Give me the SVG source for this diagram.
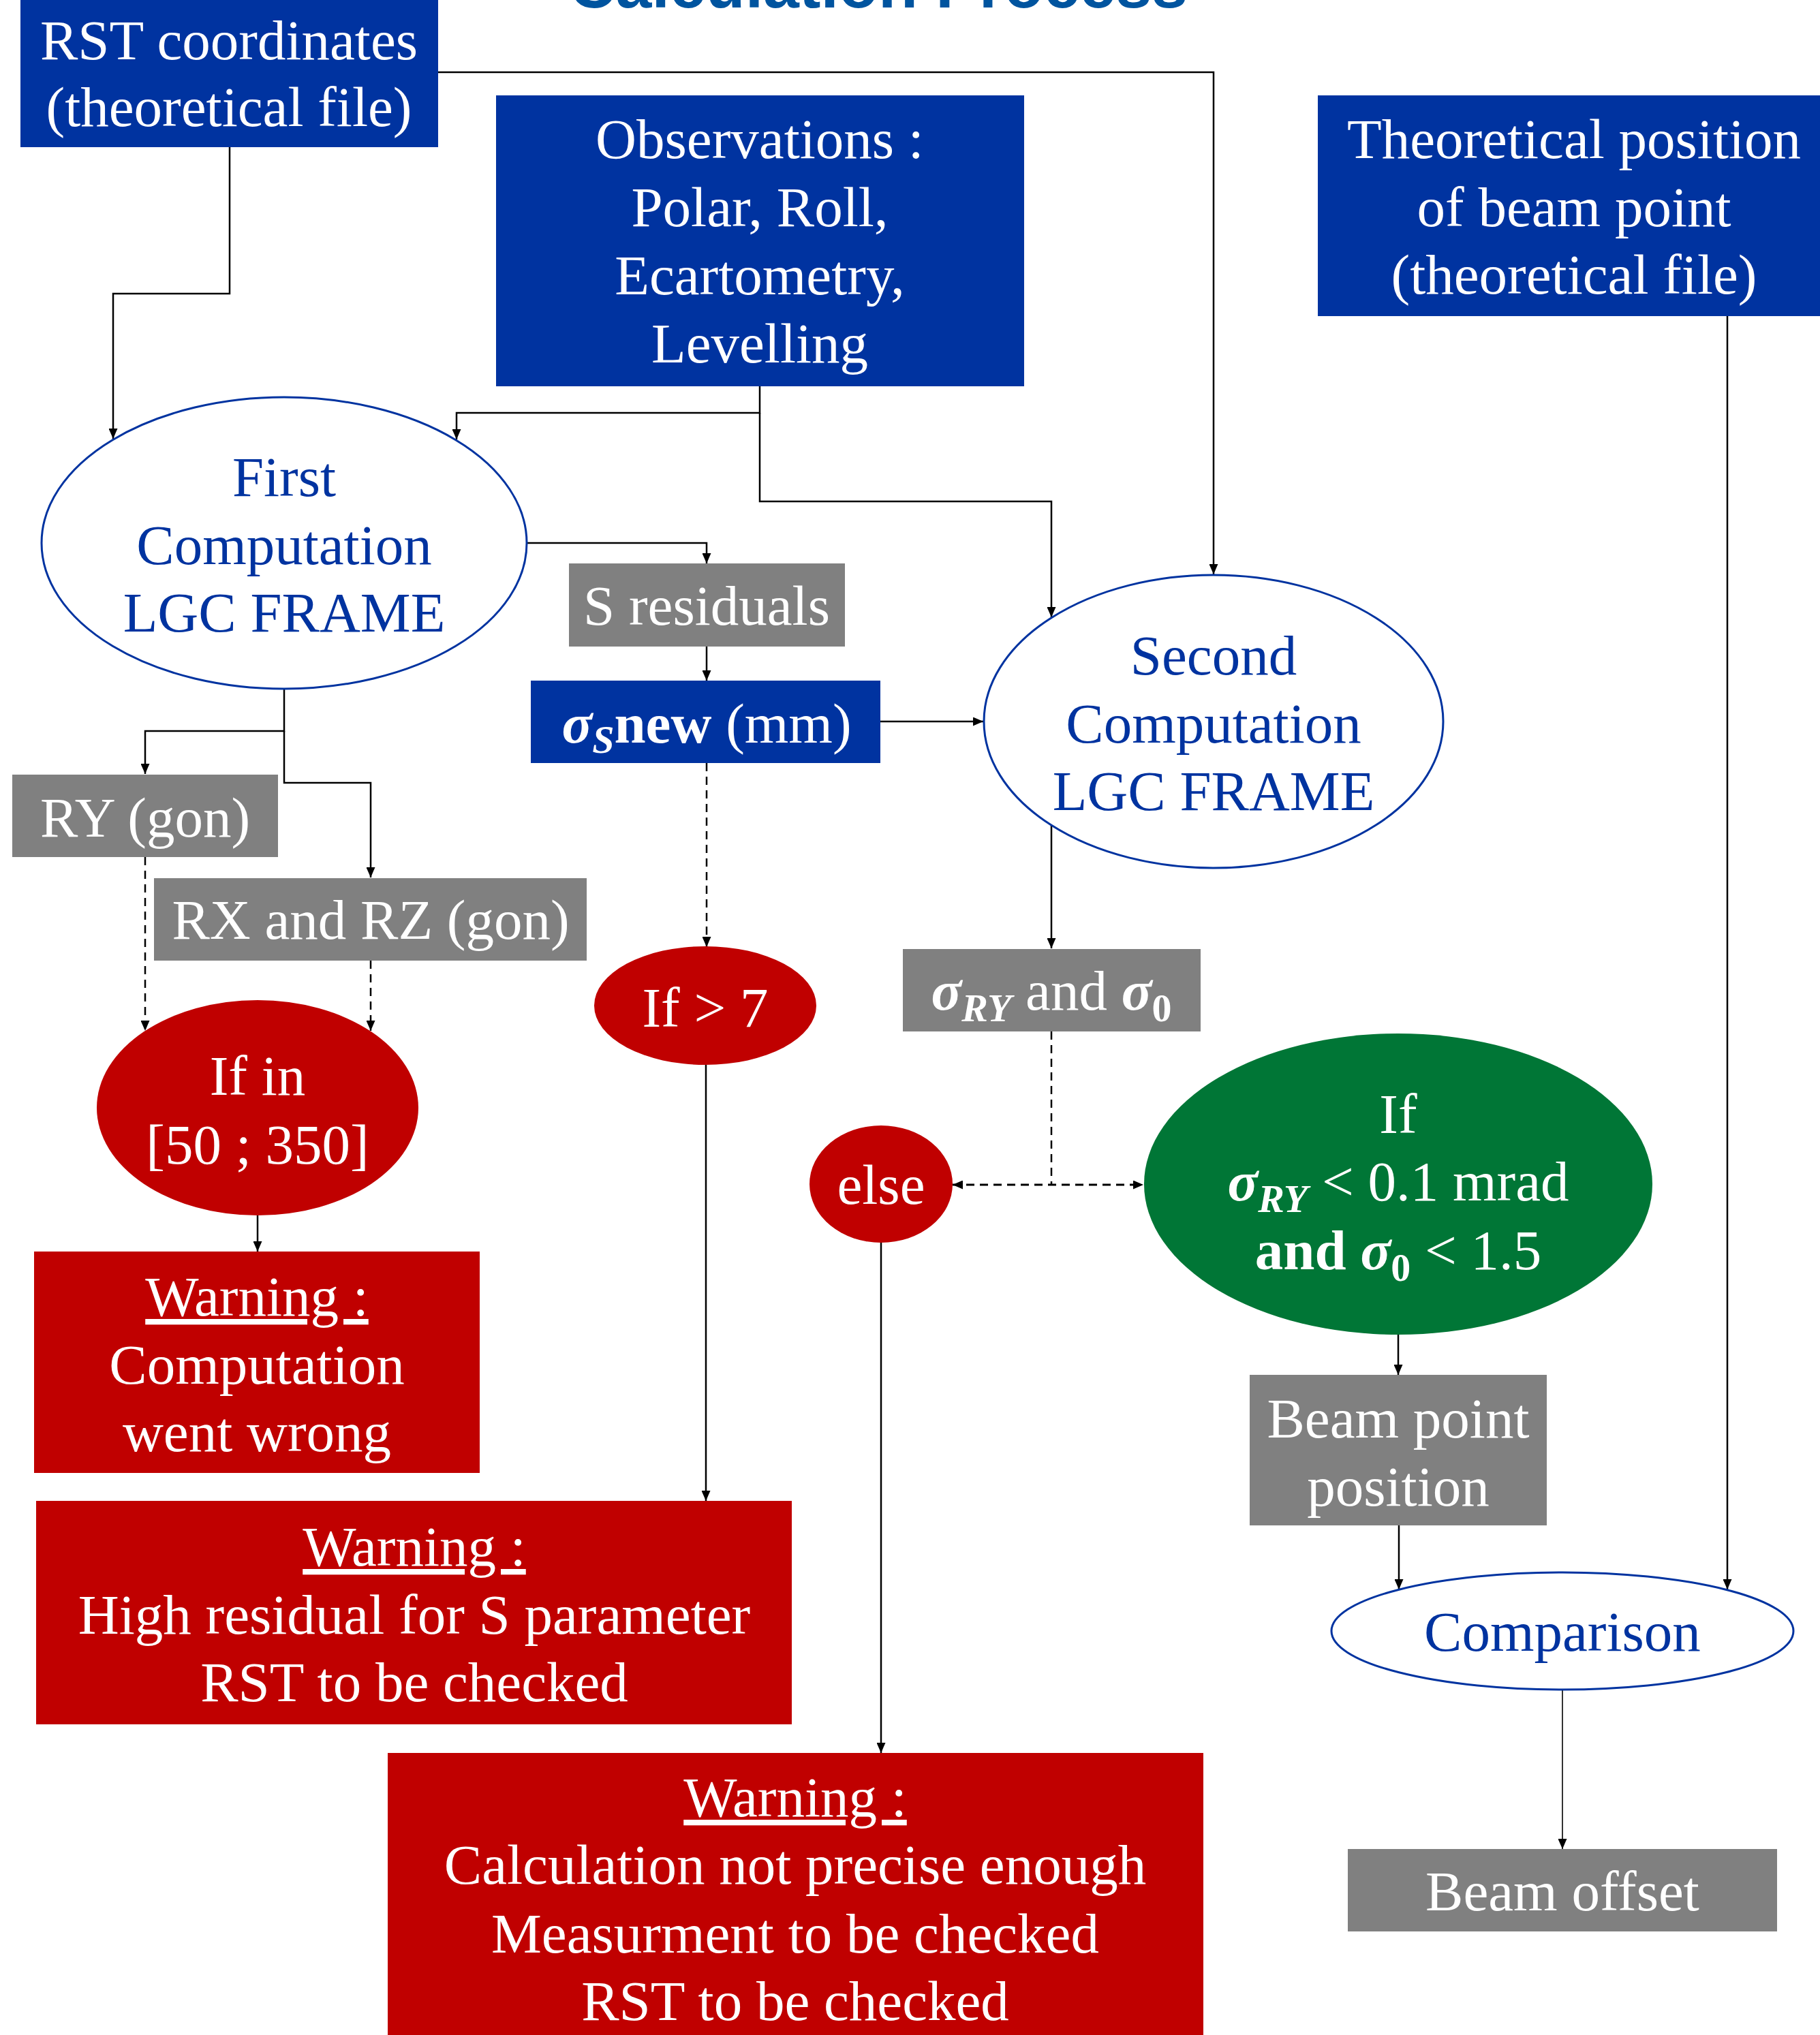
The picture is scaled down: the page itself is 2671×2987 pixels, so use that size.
<svg xmlns="http://www.w3.org/2000/svg" width="2671" height="2987" viewBox="0 0 2671 2987">
<defs>
<marker id="ah" markerUnits="userSpaceOnUse" markerWidth="15" markerHeight="13" refX="15" refY="6.5" orient="auto">
<path d="M0,0 L15,6.5 L0,13 z" fill="#000"/>
</marker>
<marker id="ahs" markerUnits="userSpaceOnUse" markerWidth="15" markerHeight="13" refX="15" refY="6.5" orient="auto-start-reverse">
<path d="M0,0 L15,6.5 L0,13 z" fill="#000"/>
</marker>
</defs>
<style>
text{font-family:"Liberation Serif","Times New Roman",serif;font-size:83px;text-anchor:middle}
.w{fill:#fff}
.b{fill:#0033A0}
.blue{fill:#0033A0}
.red{fill:#C00000}
.gray{fill:#808080}
.green{fill:#007636}
.oval{fill:#fff;stroke:#0033A0;stroke-width:3}
.c{fill:none;stroke:#000;stroke-width:2.5;marker-end:url(#ah)}
.d{fill:none;stroke:#000;stroke-width:2.5;stroke-dasharray:12 8}
.u{text-decoration:underline}
.bi{font-weight:bold;font-style:italic}
.bd{font-weight:bold}
</style>
<rect width="2671" height="2987" fill="#fff"/>
<text x="1289" y="11" style="font-family:'Liberation Sans',Arial,sans-serif;font-weight:bold;font-size:95px;fill:#00549F">Calculation Process</text>

<g id="connectors">
<path class="c" d="M337,216 V431 H166 V644"/>
<path class="c" d="M643,106 H1781 V843"/>
<path class="c" d="M1115,567 V606 H670 V645"/>
<path class="c" d="M1115,606 V736 H1543 V906"/>
<path class="c" d="M773,797 H1037 V827"/>
<path class="c" d="M1037,949 V999"/>
<path class="c" d="M1292,1059 H1443"/>
<path class="d" d="M1037,1120 V1390" marker-end="url(#ah)"/>
<path class="c" d="M1036,1563 V2203"/>
<path class="c" d="M417,1011 V1073 H213 V1136"/>
<path class="c" d="M417,1073 V1149 H544 V1288"/>
<path class="d" d="M213,1258 V1513" marker-end="url(#ah)"/>
<path class="d" d="M544,1410 V1513" marker-end="url(#ah)"/>
<path class="c" d="M378,1784 V1837"/>
<path class="c" d="M1543,1211 V1392"/>
<path class="d" d="M1543,1514 V1739"/>
<path class="d" d="M1398,1739 H1678" style="stroke-width:3" marker-start="url(#ahs)" marker-end="url(#ah)"/>
<path class="c" d="M1293,1824 V2573"/>
<path class="c" d="M2052,1959 V2018"/>
<path class="c" d="M2053,2239 V2333"/>
<path class="c" d="M2535,464 V2333"/>
<path class="c" d="M2293,2480 V2714" style="stroke-width:1.6"/>
</g>

<g id="rst">
<rect class="blue" x="30" y="0" width="613" height="216"/>
<text class="w" x="336" y="87">RST coordinates</text>
<text class="w" x="336" y="185">(theoretical file)</text>
</g>

<g id="observations">
<rect class="blue" x="728" y="140" width="775" height="427"/>
<text class="w" x="1115" y="232">Observations :</text>
<text class="w" x="1115" y="332">Polar, Roll,</text>
<text class="w" x="1115" y="432">Ecartometry,</text>
<text class="w" x="1115" y="532">Levelling</text>
</g>

<g id="theoretical">
<rect class="blue" x="1934" y="140" width="737" height="324"/>
<text class="w" x="2310" y="232">Theoretical position</text>
<text class="w" x="2310" y="332">of beam point</text>
<text class="w" x="2310" y="431">(theoretical file)</text>
</g>

<g id="first">
<ellipse class="oval" cx="417" cy="797" rx="356" ry="214"/>
<text class="b" x="417" y="728">First</text>
<text class="b" x="417" y="828">Computation</text>
<text class="b" x="417" y="927">LGC FRAME</text>
</g>

<g id="sresiduals">
<rect class="gray" x="835" y="827" width="405" height="122"/>
<text class="w" x="1037" y="917">S residuals</text>
</g>

<g id="sigmas">
<rect class="blue" x="779" y="999" width="513" height="121"/>
<text class="w" x="1037" y="1090"><tspan class="bi">σ</tspan><tspan class="bi" font-size="58" dy="15">S</tspan><tspan class="bd" dy="-15">new</tspan> (mm)</text>
</g>

<g id="second">
<ellipse class="oval" cx="1781" cy="1059" rx="337" ry="215"/>
<text class="b" x="1781" y="990">Second</text>
<text class="b" x="1781" y="1090">Computation</text>
<text class="b" x="1781" y="1189">LGC FRAME</text>
</g>

<g id="ry">
<rect class="gray" x="18" y="1137" width="390" height="121"/>
<text class="w" x="213" y="1228">RY (gon)</text>
</g>

<g id="rxrz">
<rect class="gray" x="226" y="1289" width="635" height="121"/>
<text class="w" x="544" y="1378">RX and RZ (gon)</text>
</g>

<g id="ifgt7">
<ellipse class="red" cx="1035" cy="1476" rx="163" ry="87"/>
<text class="w" x="1035" y="1507">If &gt; 7</text>
</g>

<g id="sigmary">
<rect class="gray" x="1325" y="1393" width="437" height="121"/>
<text class="w" x="1543" y="1482"><tspan class="bi">σ</tspan><tspan class="bi" font-size="58" dy="17">RY</tspan><tspan dy="-17"> and </tspan><tspan class="bi">σ</tspan><tspan class="bd" font-size="58" dy="17">0</tspan></text>
</g>

<g id="ifin">
<ellipse class="red" cx="378" cy="1626" rx="236" ry="158"/>
<text class="w" x="378" y="1607">If in</text>
<text class="w" x="378" y="1708">[50 ; 350]</text>
</g>

<g id="else">
<ellipse class="red" cx="1293" cy="1738" rx="105" ry="86"/>
<text class="w" x="1293" y="1767">else</text>
</g>

<g id="condition">
<ellipse class="green" cx="2052" cy="1738" rx="373" ry="221"/>
<text class="w" x="2052" y="1663">If</text>
<text class="w" x="2052" y="1762"><tspan class="bi">σ</tspan><tspan class="bi" font-size="58" dy="17">RY</tspan><tspan dy="-17"> &lt; 0.1 mrad</tspan></text>
<text class="w" x="2052" y="1863"><tspan class="bd">and </tspan><tspan class="bi">σ</tspan><tspan class="bd" font-size="58" dy="17">0</tspan><tspan dy="-17"> &lt; 1.5</tspan></text>
</g>

<g id="warning1">
<rect class="red" x="50" y="1837" width="654" height="325"/>
<text class="w u" x="377" y="1931">Warning :</text>
<text class="w" x="377" y="2031">Computation</text>
<text class="w" x="377" y="2130">went wrong</text>
</g>

<g id="warning2">
<rect class="red" x="53" y="2203" width="1109" height="328"/>
<text class="w u" x="608" y="2298">Warning :</text>
<text class="w" x="608" y="2398">High residual for S parameter</text>
<text class="w" x="608" y="2497">RST to be checked</text>
</g>

<g id="warning3">
<rect class="red" x="569" y="2573" width="1197" height="414"/>
<text class="w u" x="1167" y="2666">Warning :</text>
<text class="w" x="1167" y="2765">Calculation not precise enough</text>
<text class="w" x="1167" y="2866">Measurment to be checked</text>
<text class="w" x="1167" y="2965">RST to be checked</text>
</g>

<g id="beampoint">
<rect class="gray" x="1834" y="2018" width="436" height="221"/>
<text class="w" x="2052" y="2110">Beam point</text>
<text class="w" x="2052" y="2210">position</text>
</g>

<g id="comparison">
<ellipse class="oval" cx="2293" cy="2394" rx="339" ry="86"/>
<text class="b" x="2293" y="2423">Comparison</text>
</g>

<g id="beamoffset">
<rect class="gray" x="1978" y="2714" width="630" height="121"/>
<text class="w" x="2293" y="2804">Beam offset</text>
</g>
</svg>
